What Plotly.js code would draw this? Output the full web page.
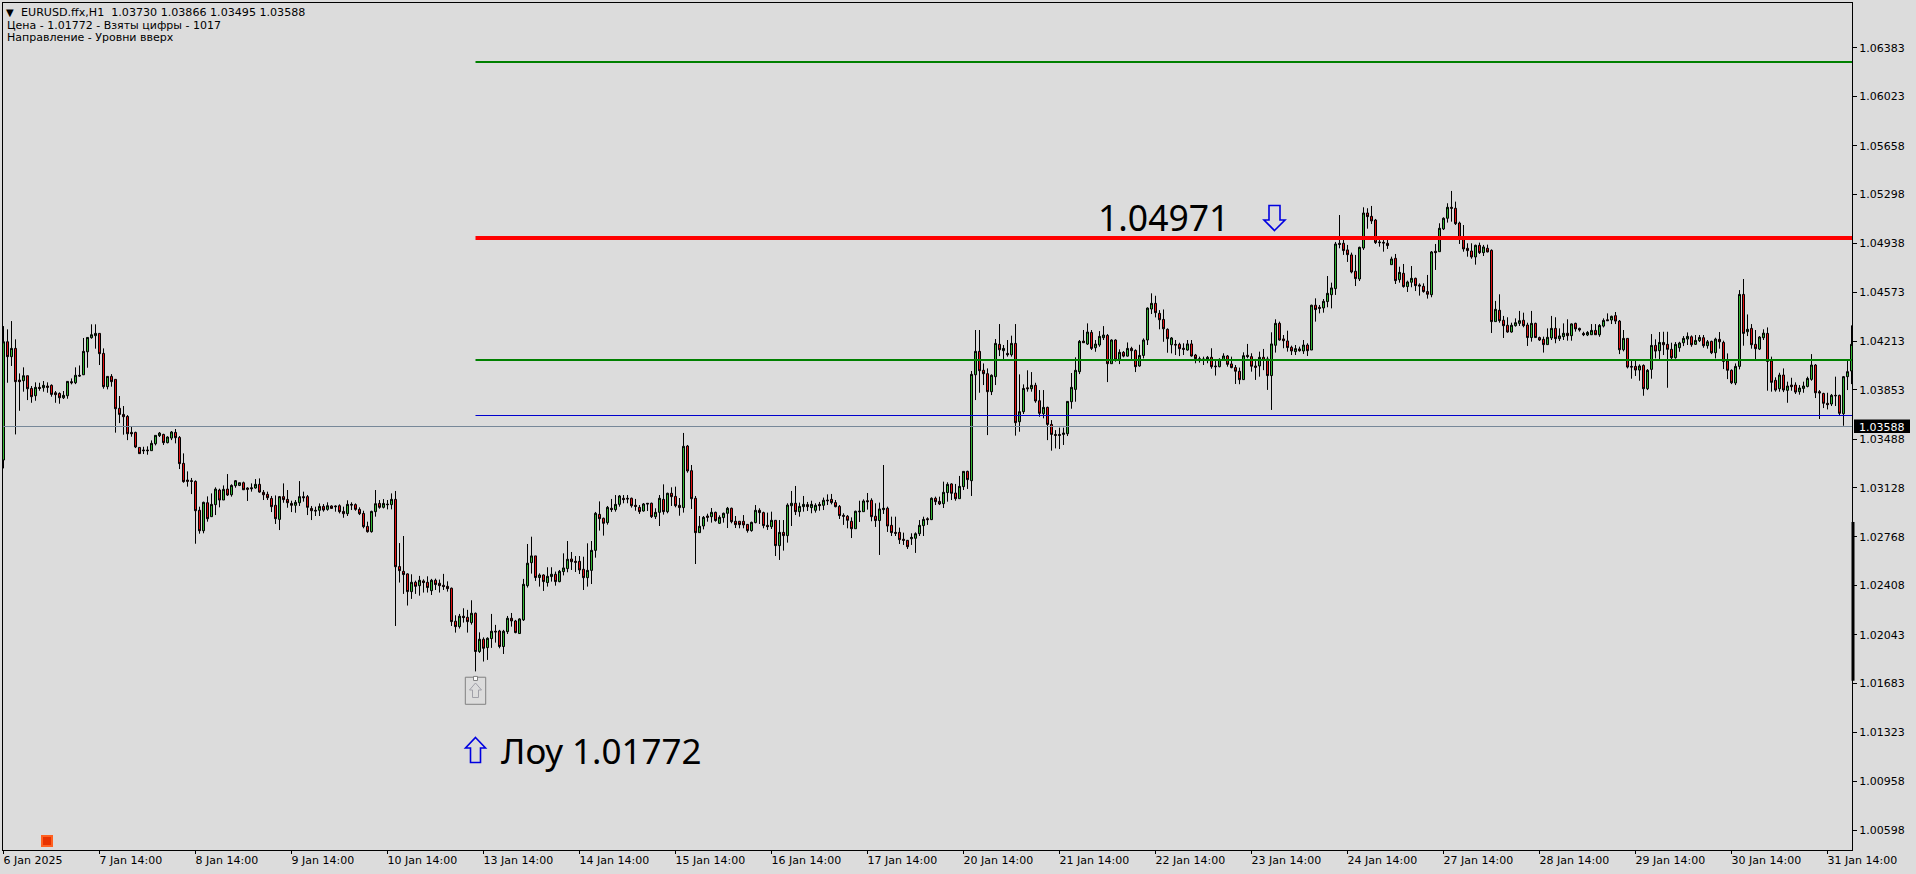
<!DOCTYPE html>
<html><head><meta charset="utf-8">
<script src="https://cdn.plot.ly/plotly-3.0.1.min.js"></script>
<style>html,body{margin:0;padding:0;background:#dcdcdc;overflow:hidden}#c{width:1916px;height:874px}</style>
</head><body><div id="c"></div>
<script>
const open_ = [
1.03335,1.04209,1.04099,1.04160,1.03926,1.03921,1.03958,1.03864,1.03810,1.03872,1.03869,1.03882,1.03887,1.03832,1.03827,1.03795,1.03810,1.03914,1.03906,1.03961,1.03965,1.04135,1.04239,1.04254,
1.04271,1.04123,1.03877,1.03953,1.03931,1.03717,1.03672,1.03657,1.03539,1.03539,1.03428,1.03409,1.03409,1.03404,1.03455,1.03515,1.03524,1.03463,1.03497,1.03539,1.03502,1.03310,1.03187,1.03182,
1.03177,1.02963,1.02812,1.03019,1.02916,1.03005,1.03113,1.03039,1.03120,1.03078,1.03145,1.03147,1.03167,1.03128,1.03130,1.03128,1.03155,1.03096,1.03081,1.03051,1.03000,1.02896,1.03064,1.03044,
1.03014,1.03000,1.03019,1.03064,1.03064,1.02977,1.02963,1.02963,1.02992,1.02970,1.02995,1.02995,1.02997,1.02955,1.02938,1.03007,1.03005,1.02970,1.02940,1.02844,1.02805,1.02953,1.03014,1.02985,
1.03009,1.03005,1.03044,1.02547,1.02512,1.02493,1.02362,1.02431,1.02406,1.02441,1.02431,1.02369,1.02446,1.02424,1.02409,1.02401,1.02387,1.02143,1.02103,1.02180,1.02172,1.02133,1.02202,1.01919,
1.02010,1.01948,1.02015,1.02069,1.02071,1.01956,1.02066,1.02165,1.02145,1.02052,1.02153,1.02406,1.02576,1.02626,1.02466,1.02485,1.02429,1.02473,1.02490,1.02436,1.02510,1.02532,1.02603,1.02586,
1.02586,1.02527,1.02465,1.02519,1.02667,1.02933,1.02904,1.02872,1.02978,1.02968,1.03007,1.03052,1.03052,1.03052,1.03000,1.02985,1.02958,1.03015,1.03015,1.02916,1.02948,1.03044,1.02953,1.03089,
1.03066,1.03000,1.02983,1.03438,1.03256,1.03052,1.02798,1.02847,1.02921,1.02916,1.02948,1.02867,1.02909,1.02941,1.02978,1.02882,1.02882,1.02882,1.02859,1.02813,1.02872,1.02963,1.02946,1.02852,
1.02842,1.02889,1.02702,1.02800,1.02776,1.02997,1.03015,1.02953,1.02990,1.03005,1.02983,1.02963,1.03007,1.03000,1.03039,1.03044,1.03020,1.02992,1.02926,1.02919,1.02882,1.02827,1.02958,1.02953,
1.03034,1.03037,1.02919,1.02887,1.02968,1.02978,1.02852,1.02800,1.02800,1.02749,1.02741,1.02753,1.02756,1.02790,1.02850,1.02901,1.02894,1.03052,1.03029,1.03012,1.03094,1.03158,1.03091,1.03049,
1.03138,1.03251,1.03182,1.03965,1.04138,1.03998,1.03973,1.03840,1.03951,1.04190,1.04143,1.04123,1.04113,1.04197,1.03618,1.03692,1.03869,1.03862,1.03887,1.03773,1.03677,1.03724,1.03598,1.03524,
1.03524,1.03524,1.03529,1.03766,1.03857,1.03988,1.04214,1.04192,1.04278,1.04165,1.04185,1.04239,1.04256,1.04047,1.04222,1.04079,1.04131,1.04103,1.04160,1.04145,1.04030,1.04108,1.04222,1.04451,
1.04493,1.04419,1.04374,1.04301,1.04187,1.04190,1.04190,1.04161,1.04148,1.04193,1.04111,1.04084,1.04082,1.04070,1.04094,1.04030,1.04025,1.04074,1.04104,1.04045,1.04018,1.03991,1.03929,1.04109,
1.04099,1.04030,1.04030,1.04094,1.04082,1.03959,1.04183,1.04345,1.04230,1.04215,1.04168,1.04136,1.04156,1.04141,1.04185,1.04148,1.04479,1.04464,1.04459,1.04506,1.04557,1.04602,1.04937,1.04937,
1.04888,1.04851,1.04730,1.04673,1.04902,1.05161,1.05136,1.05109,1.04947,1.04944,1.04937,1.04779,1.04826,1.04668,1.04715,1.04617,1.04649,1.04678,1.04629,1.04619,1.04580,1.04557,1.04878,1.04875,
1.05043,1.05122,1.05203,1.05196,1.05087,1.04981,1.04900,1.04880,1.04836,1.04922,1.04868,1.04900,1.04885,1.04358,1.04442,1.04368,1.04331,1.04281,1.04328,1.04345,1.04368,1.04333,1.04240,1.04345,
1.04240,1.04227,1.04188,1.04237,1.04308,1.04232,1.04247,1.04272,1.04254,1.04345,1.04308,1.04271,1.04259,1.04261,1.04293,1.04261,1.04325,1.04372,1.04370,1.04402,1.04362,1.04150,1.04234,1.04027,
1.04027,1.04000,1.04034,1.03862,1.04005,1.04182,1.04143,1.04204,1.04190,1.04153,1.04091,1.04165,1.04202,1.04229,1.04246,1.04190,1.04217,1.04239,1.04180,1.04212,1.04128,1.04227,1.04204,1.04067,
1.03998,1.03904,1.04027,1.04559,1.04283,1.04308,1.04190,1.04155,1.04239,1.04271,1.04067,1.03924,1.03862,1.03963,1.03850,1.03889,1.03889,1.03840,1.03864,1.03879,1.03931,1.04037,1.03840,1.03827,
1.03754,1.03749,1.03813,1.03813,1.03677,1.03951,1.03993];
const high = [
1.04325,1.04301,1.04362,1.04227,1.03975,1.04020,1.03958,1.03882,1.03909,1.03906,1.03919,1.03909,1.03894,1.03845,1.03835,1.03845,1.03919,1.03938,1.04020,1.04034,1.04237,1.04241,1.04338,1.04338,
1.04271,1.04160,1.03953,1.03970,1.03931,1.03808,1.03734,1.03667,1.03584,1.03544,1.03428,1.03433,1.03436,1.03480,1.03517,1.03542,1.03529,1.03510,1.03549,1.03564,1.03512,1.03384,1.03251,1.03202,
1.03184,1.02990,1.03027,1.03066,1.03088,1.03133,1.03123,1.03147,1.03231,1.03155,1.03187,1.03167,1.03175,1.03133,1.03162,1.03194,1.03199,1.03113,1.03101,1.03069,1.03073,1.03069,1.03162,1.03113,
1.03034,1.03039,1.03179,1.03101,1.03076,1.02995,1.02990,1.03014,1.03009,1.03022,1.03000,1.03000,1.03007,1.02990,1.03037,1.03022,1.03014,1.02985,1.02960,1.02879,1.02960,1.03113,1.03039,1.03046,
1.03039,1.03088,1.03106,1.02721,1.02773,1.02497,1.02490,1.02443,1.02478,1.02453,1.02475,1.02456,1.02458,1.02451,1.02493,1.02438,1.02392,1.02187,1.02197,1.02239,1.02227,1.02298,1.02207,1.02061,
1.02024,1.02024,1.02197,1.02116,1.02079,1.02079,1.02182,1.02204,1.02153,1.02165,1.02456,1.02714,1.02768,1.02626,1.02497,1.02490,1.02542,1.02542,1.02510,1.02522,1.02645,1.02736,1.02655,1.02625,
1.02625,1.02620,1.02719,1.02736,1.02951,1.03029,1.02909,1.02995,1.03047,1.03076,1.03076,1.03076,1.03076,1.03057,1.03047,1.03002,1.03017,1.03017,1.03020,1.02978,1.03076,1.03155,1.03093,1.03133,
1.03138,1.03054,1.03535,1.03446,1.03298,1.03069,1.02921,1.02921,1.02938,1.02980,1.02953,1.02926,1.02946,1.02988,1.02983,1.02921,1.02882,1.02928,1.02862,1.02879,1.03002,1.02978,1.02953,1.02946,
1.02953,1.02889,1.02891,1.02891,1.03015,1.03106,1.03143,1.03020,1.03069,1.03025,1.03034,1.03015,1.03025,1.03057,1.03081,1.03084,1.03039,1.03002,1.02941,1.02928,1.02911,1.02960,1.03034,1.03044,
1.03091,1.03052,1.03015,1.03020,1.03298,1.02990,1.02916,1.02916,1.02835,1.02798,1.02744,1.02793,1.02800,1.02891,1.02916,1.02911,1.03059,1.03064,1.03064,1.03175,1.03170,1.03163,1.03158,1.03217,
1.03251,1.03256,1.03993,1.04296,1.04296,1.04049,1.04012,1.03968,1.04229,1.04340,1.04185,1.04222,1.04254,1.04340,1.03968,1.03894,1.03998,1.03985,1.03906,1.03852,1.03852,1.03729,1.03630,1.03556,
1.03574,1.03574,1.03768,1.03978,1.04094,1.04222,1.04296,1.04345,1.04296,1.04222,1.04288,1.04325,1.04266,1.04227,1.04227,1.04153,1.04140,1.04204,1.04172,1.04153,1.04187,1.04234,1.04463,1.04567,
1.04549,1.04443,1.04448,1.04308,1.04244,1.04222,1.04202,1.04198,1.04222,1.04222,1.04119,1.04099,1.04099,1.04104,1.04161,1.04074,1.04087,1.04124,1.04111,1.04099,1.04037,1.04018,1.04131,1.04193,
1.04124,1.04082,1.04136,1.04156,1.04099,1.04279,1.04375,1.04358,1.04259,1.04291,1.04180,1.04185,1.04173,1.04222,1.04198,1.04483,1.04530,1.04481,1.04525,1.04695,1.04646,1.04947,1.05146,1.04981,
1.04925,1.04868,1.04851,1.04912,1.05203,1.05196,1.05213,1.05117,1.04981,1.04961,1.04966,1.04838,1.04858,1.04764,1.04784,1.04661,1.04769,1.04683,1.04641,1.04641,1.04703,1.04880,1.04932,1.05085,
1.05129,1.05233,1.05324,1.05245,1.05097,1.05072,1.04937,1.04937,1.04927,1.04942,1.04925,1.04927,1.04892,1.04511,1.04560,1.04400,1.04390,1.04350,1.04382,1.04437,1.04424,1.04350,1.04437,1.04350,
1.04247,1.04247,1.04308,1.04400,1.04390,1.04308,1.04345,1.04375,1.04345,1.04350,1.04313,1.04283,1.04288,1.04340,1.04340,1.04340,1.04382,1.04419,1.04402,1.04429,1.04370,1.04296,1.04234,1.04074,
1.04074,1.04042,1.04042,1.04007,1.04266,1.04227,1.04281,1.04283,1.04283,1.04202,1.04207,1.04209,1.04251,1.04278,1.04256,1.04259,1.04259,1.04259,1.04222,1.04217,1.04239,1.04281,1.04217,1.04123,
1.04005,1.04049,1.04591,1.04673,1.04411,1.04340,1.04296,1.04251,1.04301,1.04315,1.04099,1.03946,1.03980,1.04012,1.03914,1.03943,1.03909,1.03889,1.03914,1.03951,1.04118,1.04044,1.03852,1.03832,
1.03832,1.03823,1.03951,1.03818,1.03956,1.04067,1.04330];
const low = [
1.03273,1.03906,1.04030,1.03524,1.03699,1.03840,1.03778,1.03758,1.03773,1.03847,1.03840,1.03832,1.03803,1.03758,1.03751,1.03786,1.03788,1.03894,1.03896,1.03951,1.03963,1.04017,1.04232,1.04158,
1.04037,1.03862,1.03857,1.03877,1.03537,1.03608,1.03522,1.03482,1.03507,1.03423,1.03382,1.03379,1.03374,1.03404,1.03443,1.03505,1.03446,1.03458,1.03482,1.03458,1.03268,1.03167,1.03138,1.03083,
1.02716,1.02790,1.02793,1.02879,1.02916,1.02928,1.02985,1.03039,1.03069,1.03064,1.03130,1.03142,1.03113,1.03032,1.03101,1.03123,1.03093,1.03039,1.03039,1.02950,1.02862,1.02817,1.03019,1.02982,
1.02950,1.02945,1.02995,1.03027,1.02928,1.02891,1.02921,1.02921,1.02953,1.02960,1.02975,1.02953,1.02940,1.02908,1.02921,1.02965,1.02960,1.02928,1.02830,1.02798,1.02798,1.02916,1.02975,1.02977,
1.02970,1.02970,1.02108,1.02429,1.02345,1.02259,1.02308,1.02345,1.02332,1.02355,1.02355,1.02337,1.02374,1.02355,1.02374,1.02362,1.02108,1.02059,1.02089,1.02133,1.02059,1.02118,1.01772,1.01909,
1.01845,1.01857,1.01946,1.01985,1.01943,1.01901,1.02049,1.02103,1.02054,1.02052,1.02145,1.02392,1.02495,1.02441,1.02399,1.02367,1.02399,1.02436,1.02406,1.02431,1.02482,1.02505,1.02522,1.02507,
1.02492,1.02374,1.02399,1.02418,1.02613,1.02813,1.02776,1.02857,1.02951,1.02953,1.02990,1.03015,1.03015,1.02983,1.02960,1.02936,1.02953,1.02958,1.02906,1.02899,1.02847,1.02931,1.02941,1.02995,
1.02985,1.02923,1.02946,1.03241,1.02973,1.02566,1.02798,1.02822,1.02879,1.02872,1.02879,1.02862,1.02872,1.02832,1.02867,1.02832,1.02830,1.02830,1.02798,1.02805,1.02867,1.02862,1.02830,1.02818,
1.02825,1.02625,1.02596,1.02665,1.02724,1.02847,1.02928,1.02916,1.02953,1.02958,1.02941,1.02946,1.02960,1.02965,1.03002,1.03007,1.02985,1.02899,1.02855,1.02830,1.02758,1.02827,1.02877,1.02953,
1.02968,1.02882,1.02840,1.02633,1.02936,1.02803,1.02773,1.02773,1.02714,1.02707,1.02677,1.02707,1.02648,1.02773,1.02773,1.02855,1.02891,1.03002,1.03002,1.02980,1.03027,1.03039,1.03034,1.03049,
1.03113,1.03121,1.03069,1.03778,1.03832,1.03889,1.03519,1.03815,1.03889,1.04103,1.04079,1.04099,1.04099,1.03515,1.03544,1.03675,1.03840,1.03840,1.03758,1.03655,1.03643,1.03482,1.03404,1.03421,
1.03416,1.03446,1.03512,1.03714,1.03766,1.03970,1.04202,1.04185,1.04148,1.04135,1.04172,1.04222,1.03911,1.04047,1.04062,1.04044,1.04094,1.04099,1.04074,1.03985,1.04025,1.04086,1.04185,1.04414,
1.04389,1.04301,1.04209,1.04128,1.04123,1.04111,1.04103,1.04111,1.04143,1.04099,1.04050,1.04055,1.04037,1.04050,1.04010,1.03959,1.04020,1.04070,1.04025,1.04013,1.03897,1.03895,1.03927,1.04087,
1.03988,1.03927,1.03951,1.03999,1.03853,1.03705,1.04129,1.04217,1.04161,1.04136,1.04111,1.04111,1.04136,1.04119,1.04104,1.04148,1.04358,1.04419,1.04424,1.04464,1.04456,1.04555,1.04900,1.04851,
1.04799,1.04715,1.04621,1.04658,1.04888,1.05045,1.05080,1.04932,1.04912,1.04875,1.04895,1.04777,1.04636,1.04646,1.04609,1.04577,1.04612,1.04584,1.04550,1.04572,1.04528,1.04538,1.04740,1.04875,
1.05035,1.05090,1.05097,1.05072,1.04932,1.04875,1.04838,1.04823,1.04779,1.04858,1.04843,1.04870,1.04274,1.04358,1.04350,1.04237,1.04276,1.04276,1.04321,1.04326,1.04316,1.04178,1.04210,1.04240,
1.04215,1.04129,1.04188,1.04222,1.04198,1.04215,1.04222,1.04217,1.04217,1.04284,1.04284,1.04251,1.04251,1.04259,1.04259,1.04246,1.04315,1.04365,1.04340,1.04340,1.04118,1.04138,1.04012,1.03936,
1.03956,1.03921,1.03810,1.03852,1.03936,1.04086,1.04079,1.04111,1.03869,1.04074,1.04084,1.04135,1.04177,1.04185,1.04172,1.04185,1.04207,1.04165,1.04158,1.04118,1.04086,1.04158,1.04007,1.03933,
1.03896,1.03889,1.04005,1.04180,1.04251,1.04158,1.04081,1.04148,1.04222,1.03847,1.03840,1.03840,1.03840,1.03837,1.03758,1.03847,1.03823,1.03818,1.03832,1.03872,1.03921,1.03793,1.03638,1.03719,
1.03709,1.03734,1.03734,1.03660,1.03588,1.03852,1.03896];
const close_ = [
1.04209,1.04099,1.04160,1.03914,1.03914,1.03958,1.03862,1.03803,1.03872,1.03864,1.03887,1.03872,1.03820,1.03818,1.03795,1.03813,1.03916,1.03906,1.03961,1.03956,1.04138,1.04241,1.04261,1.04271,
1.04121,1.03877,1.03953,1.03914,1.03714,1.03672,1.03655,1.03529,1.03529,1.03431,1.03382,1.03404,1.03404,1.03458,1.03517,1.03534,1.03463,1.03505,1.03542,1.03500,1.03308,1.03175,1.03177,1.03177,
1.02960,1.02812,1.03022,1.02901,1.03007,1.03120,1.03039,1.03118,1.03076,1.03147,1.03182,1.03167,1.03115,1.03118,1.03123,1.03155,1.03098,1.03078,1.03056,1.02990,1.02901,1.03064,1.03042,1.03019,
1.03000,1.03022,1.03064,1.03056,1.02985,1.02960,1.02958,1.02992,1.02965,1.02997,1.02977,1.02990,1.02953,1.02938,1.03007,1.03002,1.02970,1.02938,1.02842,1.02805,1.02955,1.03012,1.02985,1.03014,
1.03005,1.03044,1.02546,1.02517,1.02488,1.02362,1.02431,1.02401,1.02446,1.02429,1.02392,1.02446,1.02414,1.02406,1.02399,1.02384,1.02140,1.02103,1.02180,1.02170,1.02140,1.02202,1.01919,1.02010,
1.01943,1.02017,1.02069,1.02064,1.01956,1.02069,1.02165,1.02145,1.02059,1.02160,1.02416,1.02572,1.02626,1.02466,1.02485,1.02436,1.02475,1.02490,1.02436,1.02512,1.02537,1.02601,1.02583,1.02579,
1.02522,1.02465,1.02519,1.02667,1.02941,1.02901,1.02867,1.02985,1.02968,1.03007,1.03069,1.03042,1.03047,1.02997,1.02992,1.02953,1.03010,1.03010,1.02916,1.02948,1.03052,1.02953,1.03089,1.03064,
1.02997,1.02983,1.03436,1.03254,1.03049,1.02798,1.02845,1.02911,1.02911,1.02948,1.02887,1.02911,1.02941,1.02978,1.02879,1.02857,1.02857,1.02855,1.02813,1.02874,1.02963,1.02946,1.02850,1.02842,
1.02889,1.02702,1.02800,1.02776,1.03002,1.03015,1.02953,1.02992,1.03007,1.02990,1.03007,1.03000,1.02997,1.03037,1.03034,1.03020,1.02990,1.02924,1.02919,1.02889,1.02827,1.02956,1.02953,1.03032,
1.03027,1.02916,1.02887,1.02973,1.02978,1.02847,1.02798,1.02793,1.02746,1.02741,1.02694,1.02763,1.02790,1.02852,1.02896,1.02894,1.03052,1.03027,1.03010,1.03096,1.03155,1.03089,1.03049,1.03140,
1.03251,1.03190,1.03968,1.04138,1.03995,1.03973,1.03840,1.03961,1.04197,1.04150,1.04160,1.04113,1.04197,1.03611,1.03692,1.03864,1.03862,1.03887,1.03771,1.03680,1.03724,1.03598,1.03524,1.03517,
1.03517,1.03534,1.03768,1.03872,1.03998,1.04212,1.04202,1.04281,1.04160,1.04192,1.04249,1.04259,1.04047,1.04222,1.04074,1.04131,1.04103,1.04160,1.04143,1.04025,1.04108,1.04222,1.04458,1.04493,
1.04424,1.04372,1.04305,1.04232,1.04237,1.04185,1.04158,1.04153,1.04193,1.04104,1.04084,1.04070,1.04074,1.04094,1.04025,1.04025,1.04079,1.04104,1.04042,1.04018,1.03991,1.03929,1.04106,1.04099,
1.04028,1.04020,1.04094,1.04072,1.03959,1.04193,1.04345,1.04222,1.04217,1.04166,1.04141,1.04158,1.04143,1.04185,1.04143,1.04479,1.04447,1.04456,1.04508,1.04567,1.04607,1.04932,1.04929,1.04883,
1.04853,1.04725,1.04676,1.04907,1.05161,1.05134,1.05102,1.04942,1.04942,1.04939,1.04920,1.04821,1.04661,1.04722,1.04617,1.04651,1.04678,1.04624,1.04621,1.04580,1.04560,1.04873,1.04868,1.05048,
1.05122,1.05203,1.05196,1.05082,1.04979,1.04895,1.04883,1.04836,1.04922,1.04868,1.04910,1.04873,1.04358,1.04449,1.04365,1.04328,1.04281,1.04331,1.04350,1.04365,1.04328,1.04240,1.04345,1.04240,
1.04222,1.04188,1.04242,1.04308,1.04232,1.04252,1.04272,1.04254,1.04341,1.04304,1.04296,1.04261,1.04278,1.04293,1.04261,1.04330,1.04367,1.04365,1.04397,1.04362,1.04150,1.04234,1.04022,1.04022,
1.04000,1.04030,1.03862,1.03998,1.04182,1.04140,1.04204,1.04187,1.04153,1.04091,1.04190,1.04200,1.04234,1.04249,1.04187,1.04219,1.04241,1.04180,1.04209,1.04128,1.04229,1.04209,1.04064,1.03998,
1.03906,1.04027,1.04559,1.04271,1.04301,1.04187,1.04158,1.04244,1.04273,1.04064,1.03909,1.03852,1.03963,1.03852,1.03882,1.03877,1.03837,1.03867,1.03882,1.03938,1.04037,1.03832,1.03830,1.03754,
1.03744,1.03813,1.03810,1.03680,1.03951,1.03988,1.04190];

const xTickLabels = ["6 Jan 2025","7 Jan 14:00","8 Jan 14:00","9 Jan 14:00","10 Jan 14:00","13 Jan 14:00","14 Jan 14:00","15 Jan 14:00","16 Jan 14:00","17 Jan 14:00","20 Jan 14:00","21 Jan 14:00","22 Jan 14:00","23 Jan 14:00","24 Jan 14:00","27 Jan 14:00","28 Jan 14:00","29 Jan 14:00","30 Jan 14:00","31 Jan 14:00"];
const xTickBars = [0,24,48,72,96,120,144,168,192,216,240,264,288,312,336,360,384,408,432,456];
const yTicks = [1.06383,1.06023,1.05658,1.05298,1.04938,1.04573,1.04213,1.03853,1.03488,1.03128,1.02768,1.02408,1.02043,1.01683,1.01323,1.00958,1.00598];
const levelGreenTop = 1.062772, levelRed = 1.049761, levelGreenMid = 1.040742, levelBlue = 1.036639, levelGrey = 1.035826;
const levelStartBar = 118;
const bars = open_.map((_, i) => i);
const X0 = -0.125, X1 = 462.125;
const FONT = "DejaVu Sans";
const px = x => (x - 3) / 1849, py = y => (850 - y) / 847;

const levelLine = (xs, y, color, width) => ({type:'scatter', mode:'lines', x:xs, y:[y,y], line:{color, width}, hoverinfo:'skip', showlegend:false});
const traces = [
 {type:'candlestick', x:bars, open:open_, high, low, close:close_, whiskerwidth:0,
  increasing:{line:{color:'#000',width:1}, fillcolor:'#32B432'},
  decreasing:{line:{color:'#000',width:1}, fillcolor:'#E01010'}, showlegend:false, hoverinfo:'skip'},
 levelLine([X0,X1], levelGrey, '#778899', 1),
 levelLine([levelStartBar,X1], levelBlue, '#0000CD', 1),
 levelLine([levelStartBar,X1], levelGreenMid, '#008000', 2),
 levelLine([levelStartBar,X1], levelGreenTop, '#008000', 2),
 levelLine([levelStartBar,X1], levelRed, '#FF0000', 4)
];
const note = (x, y, text, size, color, family, anchor) => ({xref:'paper', yref:'paper', x:px(x), y:py(y), text, showarrow:false, xanchor:anchor||'left', yanchor:'middle', borderpad:0, borderwidth:0, font:{size, color, family:family||FONT}});
const annotations = [
 note(6, 12, '▼', 10, '#000'),
 note(21, 12.5, 'EURUSD.ffx,H1\u00A0\u00A01.03730 1.03866 1.03495 1.03588', 11.1, '#000'),
 note(7, 25.5, 'Цена - 1.01772 - Взяты цифры - 1017', 11, '#000'),
 note(7, 38, 'Направление - Уровни вверх', 11, '#000'),
 note(1098, 217, '1.04971', 35.5, '#000', 'Noto Sans'),
 note(501, 750, 'Лоу 1.01772', 35, '#000', 'Noto Sans'),
 note(1859, 427, '1.03588', 11, '#fff')
];
const arrowPath = (cx, tip, base, end, halfHead, halfShaft) => {
  const P = (x, y) => px(x) + ',' + py(y);
  return 'M' + P(cx, tip) + ' L' + P(cx + halfHead, base) + ' L' + P(cx + halfShaft, base) + ' L' + P(cx + halfShaft, end) +
         ' L' + P(cx - halfShaft, end) + ' L' + P(cx - halfShaft, base) + ' L' + P(cx - halfHead, base) + ' Z';
};
const shapes = [
 {type:'rect', xref:'x', yref:'y', x0:115.45, x1:120.55, y0:1.01729, y1:1.01529, line:{color:'#808080', width:1}, fillcolor:'rgba(0,0,0,0)'},
 {type:'rect', xref:'x', yref:'y', x0:117.5, x1:118.5, y0:1.01735, y1:1.01705, line:{color:'#808080', width:1}, fillcolor:'#fff'},
 {type:'rect', xref:'x', yref:'y', x0:9.625, x1:12.125, y0:1.00556, y1:1.00482, line:{color:'#FF6020', width:2}, fillcolor:'#E83200'},
 {type:'line', xref:'paper', yref:'y', x0:px(1853), x1:px(1853), y0:1.02877, y1:1.01703, line:{color:'#000', width:3}},
 {type:'rect', xref:'paper', yref:'paper', x0:px(1854), x1:px(1910), y0:py(419.5), y1:py(433), line:{width:0}, fillcolor:'#000'},
 {type:'path', xref:'paper', yref:'paper', path:arrowPath(475.5, 737.5, 748, 762.5, 10, 5), line:{color:'#0000E0', width:1.6}, fillcolor:'rgba(0,0,0,0)'},
 {type:'path', xref:'paper', yref:'paper', path:arrowPath(1274.5, 230.5, 220, 205.5, 10.5, 5.5), line:{color:'#0000E0', width:1.6}, fillcolor:'rgba(0,0,0,0)'},
 {type:'path', xref:'paper', yref:'paper', path:arrowPath(475.5, 683, 690, 697.5, 6, 3), line:{color:'#A0A0A8', width:1}, fillcolor:'rgba(0,0,0,0)'}
];
const layout = {
 width:1916, height:874, margin:{l:3, r:64, t:3, b:24}, autosize:false,
 paper_bgcolor:'#DCDCDC', plot_bgcolor:'#DCDCDC', showlegend:false, dragmode:false, boxgap:0.5, boxgroupgap:0, hovermode:false,
 xaxis:{type:'linear', range:[X0,X1], rangeslider:{visible:false}, tickmode:'array', tickvals:xTickBars, ticktext:xTickLabels,
   ticks:'outside', ticklen:3, tickwidth:1, tickcolor:'#000', showgrid:false, zeroline:false, showline:true, linecolor:'#000', linewidth:1, mirror:true,
   tickangle:0, ticklabelposition:'outside right', ticklabelshift:-1, tickfont:{family:FONT, size:11, color:'#000'}, fixedrange:true},
 yaxis:{type:'linear', side:'right', range:[1.004518,1.067134], tickmode:'array', tickvals:yTicks, ticktext:yTicks.map(v=>v.toFixed(5)),
   ticks:'outside', ticklen:4, tickwidth:1, tickcolor:'#000', showgrid:false, zeroline:false, showline:true, linecolor:'#000', linewidth:1, mirror:true,
   tickfont:{family:FONT, size:11, color:'#000'}, fixedrange:true},
 annotations, shapes
};
Plotly.newPlot('c', traces, layout, {displayModeBar:false, staticPlot:true});
</script></body></html>
